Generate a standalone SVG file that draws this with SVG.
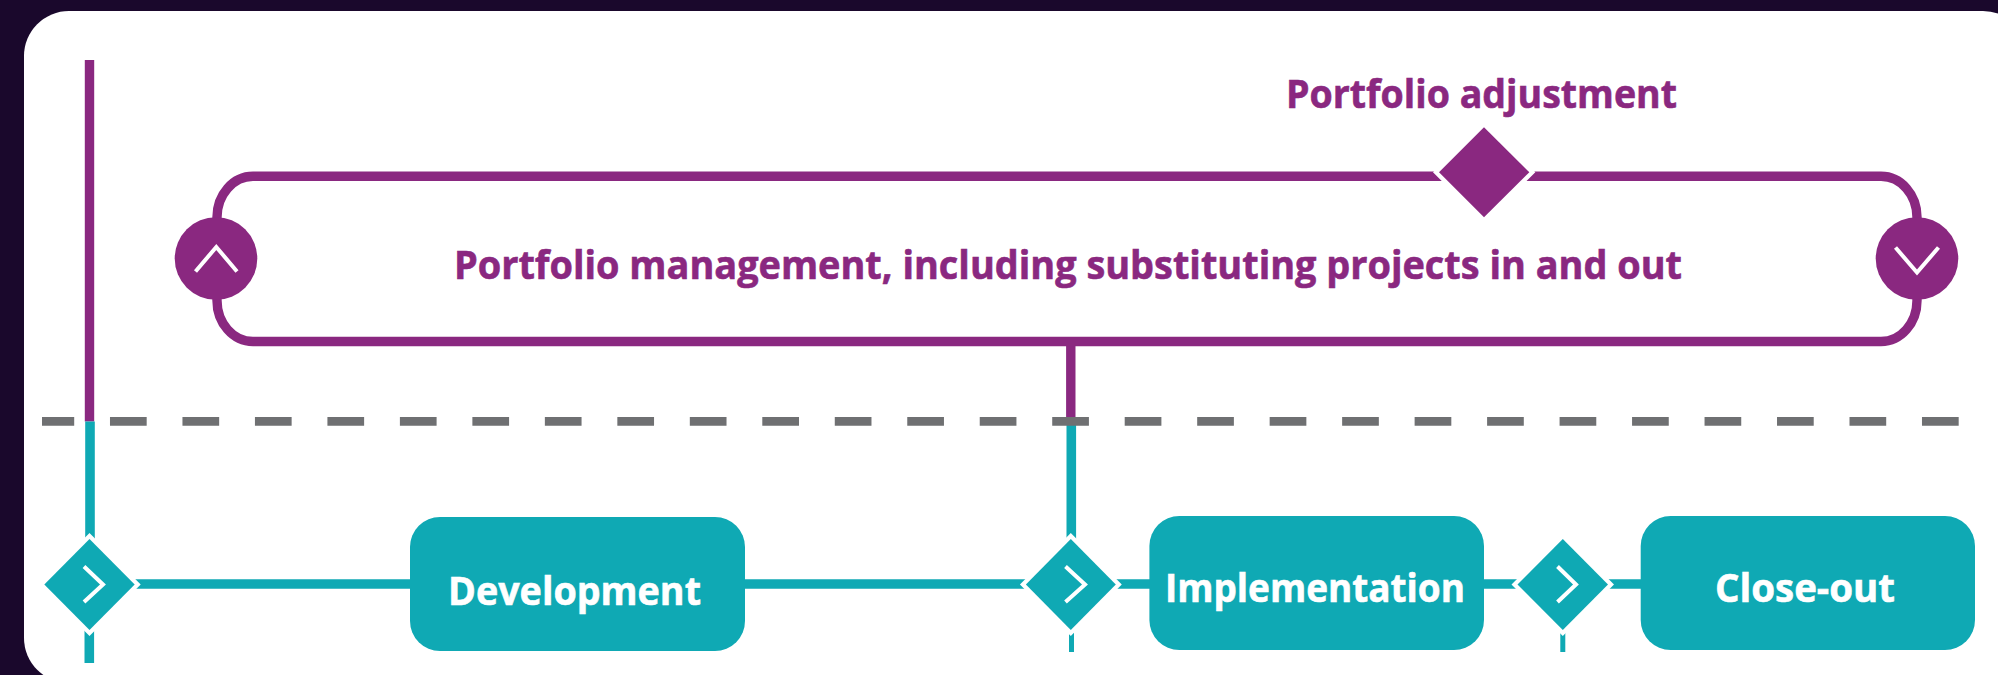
<svg xmlns="http://www.w3.org/2000/svg" width="1998" height="675" viewBox="0 0 1998 675">
<style>
.p{fill:none;stroke:#8a2880;stroke-width:9.4}
.t{fill:none;stroke:#0fa9b4;stroke-width:9.6}
.thin{fill:none;stroke:#0fa9b4;stroke-width:5}
.d{fill:#0fa9b4;stroke:#fff;stroke-width:8.5;paint-order:stroke;stroke-linejoin:miter;stroke-miterlimit:4}
.dp{fill:#8a2880;stroke:#fff;stroke-width:8.5;paint-order:stroke;stroke-miterlimit:4}
.c{fill:#8a2880}
.ch{fill:none;stroke:#fff;stroke-width:4}
.b{fill:#0fa9b4}
text{font-family:"Open Sans","Noto Sans","Liberation Sans",sans-serif;font-weight:700;font-size:39.500px}
.lp{fill:#8a2880;stroke:#8a2880;stroke-width:.6}
.lw{fill:#fff;stroke:#fff;stroke-width:.6;text-anchor:start}
</style>
<rect width="1998" height="675" fill="#1a082c"/>
<rect x="24" y="11" width="2004" height="672" rx="45" ry="45" fill="#fff"/>
<g id="connectors">
<path class="p" d="M89.500 60V421.500"/>
<path class="p" d="M1070.800 341V421.500"/>
<path class="t" d="M90 421.500V545"/>
<path class="t" d="M89.300 625V663"/>
<path class="t" d="M1071.300 421.500V545"/>
<path class="thin" d="M1071.500 625V652"/>
<path class="thin" d="M1562.800 625V652"/>
<path class="t" d="M130 584H415"/>
<path class="t" d="M740 584H1035"/>
<path class="t" d="M1105 584H1155"/>
<path class="t" d="M1480 584H1530"/>
<path class="t" d="M1600 584H1645"/>
<path class="p" d="M1484 176.300H253A36 41 0 0 0 217 217.300V300.500A36 41 0 0 0 253 341.500H1881A36 41 0 0 0 1917 300.500V217.300A36 41 0 0 0 1881 176.300Z"/>
<line id="divider" x1="42" y1="421.300" x2="1959" y2="421.300" stroke="#6f7072" stroke-width="8.800" stroke-dasharray="36.700 35.780" stroke-dashoffset="4.500"/>
</g>
<g id="portfolio-adjustment">
<polygon class="dp" points="1484,127.300 1529.300,172.300 1484,217.300 1439,172.300"/>
<text class="lp" x="1286" y="107.500" textLength="391" lengthAdjust="spacingAndGlyphs">Portfolio adjustment</text>
</g>
<g id="portfolio-management">
<text class="lp" x="454" y="278.500" textLength="1228" lengthAdjust="spacingAndGlyphs">Portfolio management, including substituting projects in and out</text>
</g>
<g id="portfolio-up">
<circle class="c" cx="216" cy="258.500" r="41.300"/>
<path class="ch" d="M195.500 271.500L216.300 247L237 271.500"/>
</g>
<g id="portfolio-down">
<circle class="c" cx="1917" cy="258.500" r="41.300"/>
<path class="ch" d="M1895.500 247.500L1917 272.500L1938.500 247.500"/>
</g>
<g id="gate-1">
<polygon class="d" points="89.500,539 134.700,584.500 89.500,630 44.300,584.500"/>
<path class="ch" d="M84 566.500L103 584.500L84 602"/>
</g>
<g id="development">
<rect class="b" x="410" y="517" width="335" height="134" rx="30"/>
<text class="lw" x="448" y="604.500" textLength="253" lengthAdjust="spacingAndGlyphs">Development</text>
</g>
<g id="gate-2">
<polygon class="d" points="1070.800,539 1115.800,584.500 1070.800,630 1025.900,584.500"/>
<path class="ch" d="M1065.500 566.500L1085 584.500L1065.500 602"/>
</g>
<g id="implementation">
<rect class="b" x="1149.400" y="516" width="334.600" height="134" rx="30"/>
<text class="lw" x="1165" y="601.500" textLength="300" lengthAdjust="spacingAndGlyphs">Implementation</text>
</g>
<g id="gate-3">
<polygon class="d" points="1562.800,539 1608,584.500 1562.800,630 1517.500,584.500"/>
<path class="ch" d="M1557.500 566.500L1576 584.500L1557.500 602"/>
</g>
<g id="close-out">
<rect class="b" x="1640.700" y="516" width="334.300" height="134" rx="30"/>
<text class="lw" x="1715" y="601.500" textLength="180" lengthAdjust="spacingAndGlyphs">Close-out</text>
</g>
</svg>
